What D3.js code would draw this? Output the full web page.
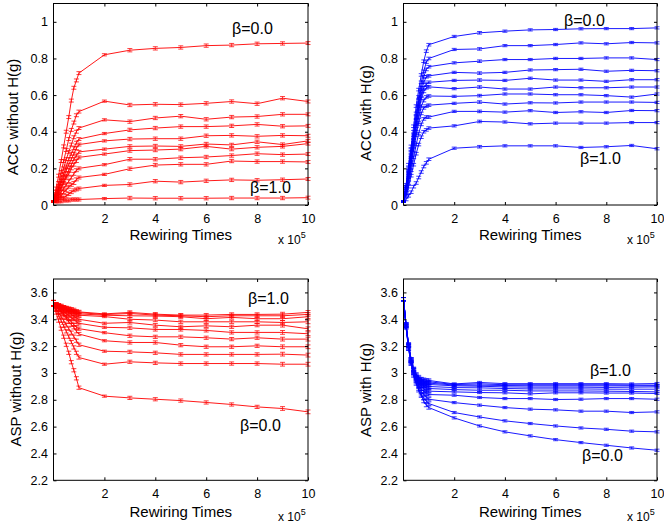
<!DOCTYPE html>
<html>
<head>
<meta charset="utf-8">
<script src="https://cdn.jsdelivr.net/npm/d3@7"></script>
<style>
html,body{margin:0;padding:0;background:#fff;}
svg{display:block;}
text{font-family:"Liberation Sans",Arial,Helvetica,sans-serif;fill:#000;}
</style>
</head>
<body>
<svg id="chart" width="664" height="524"></svg>
<script>
// ---------- data ----------
const rewiringTimes = [0,0.1,0.2,0.3,0.4,0.5,0.6,0.7,0.8,0.9,1,2,3,4,5,6,7,8,9,10]; // x 10^5
const xTicks = [2,4,6,8,10];
const accTicks = [0,0.2,0.4,0.6,0.8,1];
const aspTicks = [2.2,2.4,2.6,2.8,3,3.2,3.4,3.6];
const betas = ["0.0","0.1","0.2","0.3","0.4","0.5","0.6","0.7","0.8","0.9","1.0"];

// ACC without H(g), one row per beta
const accWithout = [
  [0.02,0.09,0.16,0.24,0.32,0.40,0.48,0.57,0.64,0.68,0.72, 0.82,0.845,0.855,0.86,0.87,0.873,0.88,0.882,0.884],
  [0.02,0.07,0.12,0.18,0.24,0.30,0.36,0.41,0.45,0.49,0.51, 0.567,0.546,0.55,0.548,0.555,0.565,0.553,0.583,0.565],
  [0.02,0.06,0.10,0.15,0.20,0.25,0.29,0.33,0.37,0.40,0.42, 0.465,0.455,0.475,0.485,0.468,0.48,0.483,0.495,0.495],
  [0.02,0.05,0.09,0.13,0.17,0.21,0.25,0.28,0.31,0.34,0.36, 0.39,0.41,0.42,0.428,0.428,0.432,0.44,0.43,0.432],
  [0.02,0.05,0.08,0.12,0.15,0.19,0.22,0.25,0.28,0.31,0.33, 0.35,0.36,0.362,0.362,0.378,0.38,0.375,0.38,0.378],
  [0.02,0.04,0.07,0.10,0.13,0.16,0.19,0.22,0.25,0.27,0.29, 0.305,0.32,0.322,0.32,0.333,0.328,0.345,0.33,0.35],
  [0.02,0.04,0.06,0.09,0.12,0.15,0.17,0.20,0.22,0.24,0.26, 0.278,0.297,0.30,0.305,0.32,0.305,0.315,0.32,0.335],
  [0.02,0.03,0.05,0.07,0.09,0.11,0.13,0.15,0.17,0.19,0.20, 0.22,0.25,0.25,0.258,0.262,0.27,0.28,0.275,0.278],
  [0.02,0.03,0.04,0.05,0.07,0.08,0.10,0.11,0.12,0.14,0.15, 0.167,0.198,0.218,0.222,0.222,0.24,0.237,0.237,0.235],
  [0.02,0.02,0.03,0.04,0.04,0.05,0.06,0.07,0.08,0.085,0.09, 0.107,0.112,0.13,0.125,0.132,0.137,0.135,0.138,0.142],
  [0.02,0.02,0.02,0.02,0.025,0.025,0.025,0.03,0.03,0.03,0.03, 0.035,0.038,0.037,0.037,0.037,0.038,0.038,0.038,0.04]
];
const accWithoutErr = [0.004,0.008,0.008,0.008,0.008,0.008,0.008,0.008,0.008,0.008,0.008, 0.006,0.009,0.009,0.009,0.009,0.009,0.009,0.009,0.008];

// ACC with H(g)
const accWith = [
  [0.02,0.11,0.22,0.32,0.43,0.54,0.63,0.71,0.785,0.84,0.875, 0.92,0.94,0.949,0.956,0.958,0.962,0.963,0.963,0.967],
  [0.02,0.10,0.20,0.30,0.40,0.50,0.59,0.67,0.73,0.78,0.80, 0.849,0.852,0.87,0.87,0.876,0.885,0.88,0.887,0.885],
  [0.02,0.10,0.19,0.29,0.38,0.48,0.57,0.64,0.70,0.74,0.755, 0.776,0.785,0.794,0.794,0.80,0.80,0.803,0.803,0.794],
  [0.02,0.09,0.18,0.27,0.37,0.46,0.55,0.62,0.67,0.70,0.705, 0.724,0.72,0.724,0.737,0.739,0.741,0.73,0.735,0.733],
  [0.02,0.09,0.17,0.26,0.35,0.44,0.53,0.60,0.64,0.66,0.67, 0.68,0.682,0.68,0.692,0.682,0.682,0.675,0.684,0.684],
  [0.02,0.08,0.16,0.25,0.34,0.43,0.51,0.58,0.62,0.64,0.645, 0.635,0.644,0.633,0.633,0.644,0.64,0.64,0.644,0.644],
  [0.02,0.08,0.15,0.23,0.32,0.40,0.48,0.54,0.57,0.59,0.595, 0.593,0.597,0.606,0.606,0.602,0.602,0.597,0.589,0.606],
  [0.02,0.07,0.14,0.22,0.30,0.38,0.45,0.50,0.53,0.54,0.545, 0.555,0.562,0.551,0.558,0.557,0.562,0.562,0.562,0.56],
  [0.02,0.06,0.12,0.19,0.26,0.33,0.39,0.44,0.47,0.48,0.48, 0.511,0.511,0.507,0.515,0.505,0.509,0.505,0.516,0.515],
  [0.02,0.05,0.10,0.16,0.22,0.28,0.33,0.37,0.40,0.41,0.42, 0.432,0.456,0.453,0.443,0.447,0.447,0.447,0.45,0.45],
  [0.02,0.03,0.05,0.07,0.10,0.12,0.15,0.18,0.21,0.23,0.25, 0.31,0.318,0.323,0.323,0.323,0.314,0.318,0.325,0.307]
];
const accWithErr = [0.004,0.007,0.007,0.007,0.007,0.007,0.007,0.007,0.007,0.007,0.007, 0.006,0.007,0.006,0.006,0.006,0.006,0.006,0.006,0.006];

// ASP without H(g)
const aspWithout = [
  [3.52,3.45,3.39,3.33,3.27,3.21,3.15,3.08,3.02,2.96,2.89, 2.827,2.814,2.804,2.794,2.78,2.765,2.747,2.735,2.71],
  [3.52,3.47,3.43,3.39,3.35,3.31,3.27,3.23,3.19,3.15,3.115, 3.065,3.083,3.075,3.07,3.07,3.07,3.07,3.065,3.065],
  [3.52,3.48,3.45,3.42,3.39,3.36,3.33,3.30,3.27,3.24,3.21, 3.162,3.157,3.15,3.138,3.138,3.138,3.138,3.14,3.133],
  [3.52,3.49,3.47,3.45,3.43,3.41,3.38,3.36,3.34,3.31,3.29, 3.24,3.227,3.227,3.207,3.195,3.195,3.202,3.195,3.195],
  [3.52,3.50,3.48,3.46,3.44,3.42,3.40,3.38,3.36,3.34,3.33, 3.30,3.277,3.269,3.269,3.262,3.252,3.262,3.252,3.252],
  [3.52,3.50,3.49,3.47,3.46,3.44,3.43,3.41,3.40,3.38,3.37, 3.34,3.336,3.324,3.324,3.317,3.302,3.302,3.302,3.292],
  [3.52,3.51,3.50,3.48,3.47,3.46,3.45,3.44,3.42,3.41,3.40, 3.37,3.376,3.356,3.344,3.351,3.344,3.356,3.356,3.329],
  [3.52,3.51,3.50,3.49,3.48,3.47,3.46,3.45,3.44,3.435,3.43, 3.42,3.40,3.394,3.381,3.381,3.381,3.381,3.376,3.381],
  [3.52,3.51,3.50,3.49,3.485,3.48,3.47,3.46,3.455,3.45,3.44, 3.43,3.426,3.424,3.419,3.404,3.414,3.404,3.404,3.419],
  [3.52,3.51,3.50,3.495,3.49,3.48,3.475,3.47,3.46,3.455,3.45, 3.435,3.443,3.431,3.426,3.419,3.426,3.426,3.426,3.436],
  [3.52,3.51,3.505,3.50,3.49,3.485,3.48,3.475,3.47,3.46,3.455, 3.44,3.451,3.438,3.431,3.431,3.436,3.436,3.438,3.451]
];
const aspWithoutErr = [0.02,0.012,0.012,0.012,0.012,0.012,0.012,0.012,0.012,0.012,0.012, 0.008,0.012,0.012,0.012,0.012,0.012,0.012,0.014,0.014];

// ASP with H(g)
const aspWith = [
  [3.55,3.34,3.18,3.07,2.98,2.92,2.87,2.83,2.79,2.76,2.742, 2.665,2.605,2.561,2.531,2.503,2.481,2.461,2.441,2.424],
  [3.55,3.34,3.18,3.07,2.99,2.93,2.88,2.84,2.81,2.79,2.772, 2.705,2.672,2.643,2.623,2.605,2.59,2.58,2.566,2.561],
  [3.55,3.35,3.19,3.08,3.00,2.94,2.90,2.86,2.84,2.82,2.804, 2.779,2.76,2.742,2.73,2.725,2.715,2.715,2.705,2.71],
  [3.55,3.35,3.19,3.08,3.00,2.95,2.91,2.88,2.86,2.85,2.839, 2.834,2.817,2.809,2.809,2.802,2.804,2.809,2.809,2.804],
  [3.55,3.35,3.20,3.09,3.01,2.96,2.92,2.90,2.88,2.87,2.864, 2.859,2.854,2.852,2.844,2.852,2.852,2.85,2.85,2.847],
  [3.55,3.35,3.20,3.09,3.01,2.96,2.93,2.91,2.90,2.89,2.884, 2.876,2.871,2.871,2.866,2.866,2.866,2.864,2.862,2.859],
  [3.55,3.36,3.20,3.09,3.02,2.97,2.94,2.92,2.91,2.905,2.899, 2.891,2.889,2.884,2.881,2.881,2.881,2.879,2.879,2.879],
  [3.55,3.36,3.21,3.10,3.02,2.97,2.95,2.93,2.92,2.915,2.914, 2.904,2.901,2.896,2.894,2.894,2.894,2.892,2.894,2.896],
  [3.55,3.36,3.21,3.10,3.02,2.98,2.95,2.94,2.93,2.925,2.924, 2.91,2.909,2.906,2.904,2.904,2.904,2.904,2.904,2.904],
  [3.55,3.36,3.21,3.10,3.03,2.98,2.96,2.95,2.94,2.935,2.934, 2.914,2.919,2.912,2.912,2.912,2.912,2.912,2.91,2.909],
  [3.55,3.36,3.21,3.10,3.03,2.99,2.97,2.955,2.95,2.945,2.944, 2.918,2.929,2.92,2.92,2.92,2.92,2.92,2.918,2.921]
];
const aspWithErr = [0.012,0.012,0.012,0.012,0.012,0.012,0.012,0.012,0.012,0.012,0.012, 0.008,0.008,0.008,0.008,0.008,0.008,0.008,0.008,0.008];

// ---------- layout ----------
const panels = [
  {series: accWithout, err: accWithoutErr, color: "#ff0000", ticks: accTicks, yDomain: [0, 1.1],
   box: {l: 53.5, r: 308, t: 3.5, b: 205}, ylabel: "ACC without H(g)", yl: [13, 117],
   xlabelY: 239.5, expY: 244,
   notes: [{t: "\u03b2=0.0", x: 232, y: 34}, {t: "\u03b2=1.0", x: 250, y: 193}]},
  {series: accWith, err: accWithErr, color: "#0000ff", ticks: accTicks, yDomain: [0, 1.1],
   box: {l: 403.5, r: 657, t: 3.5, b: 205}, ylabel: "ACC with H(g)", yl: [366, 113],
   xlabelY: 239.5, expY: 244,
   notes: [{t: "\u03b2=0.0", x: 564, y: 26}, {t: "\u03b2=1.0", x: 580, y: 164}]},
  {series: aspWithout, err: aspWithoutErr, color: "#ff0000", ticks: aspTicks, yDomain: [2.2, 3.7],
   box: {l: 53.5, r: 308, t: 279, b: 480.3}, ylabel: "ASP without H(g)", yl: [16, 389],
   xlabelY: 516.5, expY: 521,
   notes: [{t: "\u03b2=1.0", x: 248, y: 304}, {t: "\u03b2=0.0", x: 240, y: 431}]},
  {series: aspWith, err: aspWithErr, color: "#0000ff", ticks: aspTicks, yDomain: [2.2, 3.7],
   box: {l: 403.5, r: 657, t: 279, b: 480.3}, ylabel: "ASP with H(g)", yl: [366, 390],
   xlabelY: 516.5, expY: 521,
   notes: [{t: "\u03b2=1.0", x: 590, y: 376}, {t: "\u03b2=0.0", x: 582, y: 461}]}
];

const svg = d3.select("#chart");

panels.forEach(p => {
  const b = p.box;
  const x = d3.scaleLinear().domain([0, 10]).range([b.l, b.r]);
  const y = d3.scaleLinear().domain(p.yDomain).range([b.b, b.t]);
  const g = svg.append("g");

  // data lines
  const line = d3.line().x((d, i) => x(rewiringTimes[i])).y(d => y(d));
  const cap = 2.5;
  p.series.forEach(vals => {
    g.append("path").attr("d", line(vals))
      .attr("fill", "none").attr("stroke", p.color).attr("stroke-width", 1)
      .attr("stroke-opacity", 0.9);
    const eb = g.append("g").attr("stroke", p.color).attr("stroke-width", 1).attr("stroke-opacity", 0.75);
    vals.forEach((v, i) => {
      const e = p.err[i];
      const xx = x(rewiringTimes[i]);
      const y1 = y(v - e), y2 = y(v + e);
      eb.append("line").attr("x1", xx).attr("x2", xx).attr("y1", y1).attr("y2", y2);
      eb.append("line").attr("x1", xx - cap).attr("x2", xx + cap).attr("y1", y1).attr("y2", y1);
      eb.append("line").attr("x1", xx - cap).attr("x2", xx + cap).attr("y1", y2).attr("y2", y2);
    });
  });

  // axes (MATLAB style: inward ticks, mirrored, full box)
  const axB = d3.axisBottom(x).tickValues(xTicks).tickSizeInner(-3).tickSizeOuter(0).tickPadding(9).tickFormat(d3.format("d"));
  const axT = d3.axisTop(x).tickValues(xTicks).tickSizeInner(-3).tickSizeOuter(0).tickFormat("");
  const fmt = d => (Math.round(d * 10) / 10).toString();
  const axL = d3.axisLeft(y).tickValues(p.ticks).tickSizeInner(-3).tickSizeOuter(0).tickPadding(5.5).tickFormat(fmt);
  const axR = d3.axisRight(y).tickValues(p.ticks).tickSizeInner(-3).tickSizeOuter(0).tickFormat("");

  const gb = g.append("g").attr("transform", `translate(0,${b.b})`).call(axB);
  const gt = g.append("g").attr("transform", `translate(0,${b.t})`).call(axT);
  const gl = g.append("g").attr("transform", `translate(${b.l},0)`).call(axL);
  const gr = g.append("g").attr("transform", `translate(${b.r},0)`).call(axR);
  [gb, gt, gl, gr].forEach(a => {
    a.select(".domain").remove();
    a.selectAll(".tick line").attr("stroke", "#000");
    a.selectAll("text").attr("font-size", 12.5).attr("font-family", "Liberation Sans, Arial, sans-serif").attr("fill", "#000");
  });

  g.append("rect").attr("x", b.l).attr("y", b.t).attr("width", b.r - b.l).attr("height", b.b - b.t)
    .attr("fill", "none").attr("stroke", "#000").attr("stroke-width", 1);

  // labels
  g.append("text").attr("x", (b.l + b.r) / 2).attr("y", p.xlabelY).attr("text-anchor", "middle")
    .attr("font-size", 15).text("Rewiring Times");
  const ex = g.append("text").attr("x", b.r - 30).attr("y", p.expY).attr("font-size", 12);
  ex.append("tspan").text("x 10");
  ex.append("tspan").attr("dy", -6).attr("font-size", 9).text("5");
  g.append("text").attr("transform", `translate(${p.yl[0]},${p.yl[1]}) rotate(-90)`)
    .attr("text-anchor", "middle").attr("dy", "0.35em").attr("font-size", 15).text(p.ylabel);
  p.notes.forEach(n => {
    g.append("text").attr("x", n.x).attr("y", n.y).attr("font-size", 16).text(n.t);
  });
});
</script>
</body>
</html>
